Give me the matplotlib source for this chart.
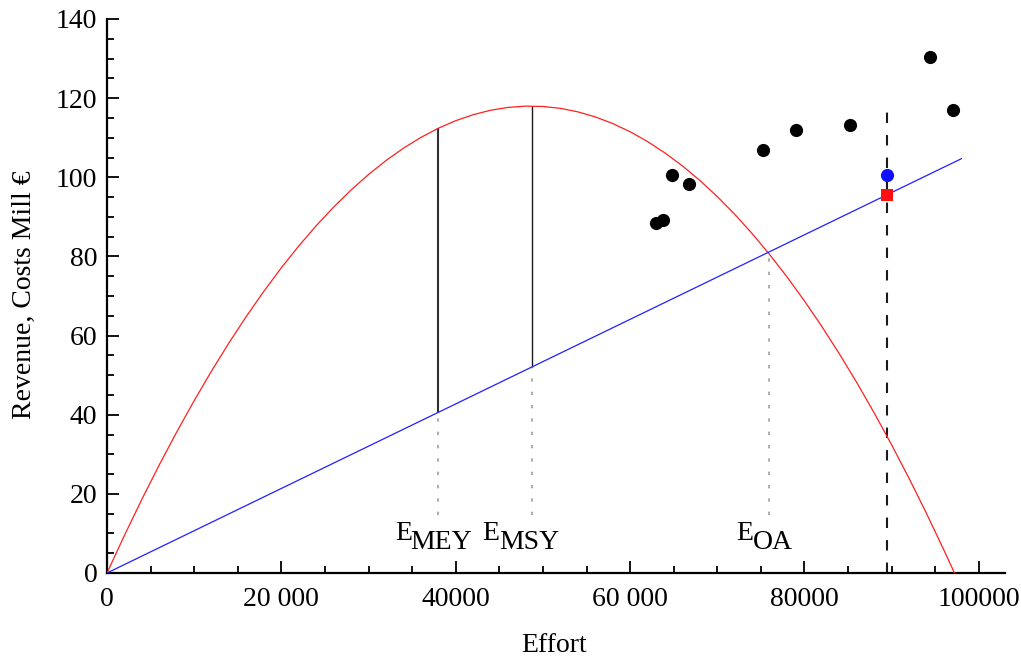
import numpy as np
import matplotlib
matplotlib.use("Agg")
import matplotlib.pyplot as plt
from matplotlib.ticker import MultipleLocator
from matplotlib.transforms import offset_copy

plt.rcParams['font.family'] = ['Liberation Serif', 'DejaVu Serif']

# revenue curve (Mill EUR) against effort
effort_curve = [0, 2000, 4000, 6000, 8000, 10000, 12000, 14000, 16000, 18000,
                20000, 22000, 24000, 26000, 28000, 30000, 32000, 34000, 36000, 38000,
                40000, 42000, 44000, 46000, 48000, 50000, 52000, 54000, 56000, 58000,
                60000, 62000, 64000, 66000, 68000, 70000, 72000, 74000, 76000, 78000,
                80000, 82000, 84000, 86000, 88000, 90000, 92000, 94000, 96000, 97200]
revenue_curve = [0, 9.51, 18.62, 27.34, 35.65, 43.56, 51.08, 58.19, 64.91, 71.22,
                 77.14, 82.65, 87.77, 92.48, 96.80, 100.72, 104.23, 107.35, 110.07, 112.39,
                 114.31, 115.82, 116.94, 117.66, 117.98, 117.90, 117.42, 116.54, 115.26, 113.59,
                 111.51, 109.03, 106.15, 102.87, 99.20, 95.12, 90.65, 85.77, 80.49, 74.82,
                 68.74, 62.27, 55.39, 48.12, 40.45, 32.37, 23.90, 15.03, 5.75, 0]

# cost line
effort_cost = [0, 98000]
cost_line = [0, 104.7]

# reference efforts with cost and revenue at that effort
ref_names = ["MEY", "MSY", "OA"]
ref_effort = [38000, 48700, 75900]
ref_cost = [40.6, 52.0, 81.0]
ref_revenue = [112.4, 118.0, 81.0]
ref_dotted_bottom = 14.7

# observed points
obs_effort = [63000, 63800, 64800, 66700, 75200, 79000, 85200, 94400, 97000]
obs_value = [88.4, 89.1, 100.5, 98.4, 107.0, 112.0, 113.3, 130.5, 117.0]

# current effort
cur_effort = 89500
cur_revenue = 100.5
cur_cost = 95.6
cur_top = 117.3

xticks = [0, 20000, 40000, 60000, 80000, 100000]
xticklabels = ["0", "20 000", "40000", "60 000", "80000", "100000"]
yticks = [0, 20, 40, 60, 80, 100, 120, 140]

fig = plt.figure(figsize=(10.21, 6.63), dpi=100)
ax = fig.add_axes([107 / 1021, 1 - 573 / 663, 898 / 1021, 554 / 663])

ax.plot(effort_curve, revenue_curve, color='#ff2020', lw=0.9, zorder=3)
ax.plot(effort_cost, cost_line, color='#2020ff', lw=0.9, zorder=3)

# vertical reference lines
ax.vlines(ref_effort[0], ref_cost[0], ref_revenue[0], color='#303030', lw=1.5, zorder=2)
ax.vlines(ref_effort[1], ref_cost[1], ref_revenue[1], color='#1a1a1a', lw=1.0, zorder=2)
for e, c in zip(ref_effort, ref_cost):
    ax.vlines(e, ref_dotted_bottom, c, color='#a0a0a0', lw=1.2,
              linestyles=(0, (2.0, 6.0)), zorder=2)

# labels E_MEY etc. : E then a lowered subscript of the same size
left_px = [-43, -49, -33]
sub_px = [15, 17, 17]
for name, e, dx, sx in zip(ref_names, ref_effort, left_px, sub_px):
    t1 = offset_copy(ax.transData, fig=fig, x=dx, y=0, units='dots')
    t2 = offset_copy(ax.transData, fig=fig, x=dx + sx, y=-9, units='dots')
    ax.text(e, 8.3, "E", transform=t1, fontsize=20, ha='left', va='baseline')
    ax.text(e, 8.3, name, transform=t2, fontsize=20, ha='left', va='baseline')

# current effort dashed line and points
ax.vlines(cur_effort, 0, cur_top, color='#1a1a1a', lw=1.5,
          linestyles=(0, (5.0, 5.8)), zorder=2)
ax.scatter(obs_effort, obs_value, s=90, color='black', zorder=4, linewidths=0)
ax.scatter([cur_effort], [cur_revenue], s=90, color='#1010ff', zorder=5, linewidths=0)
ax.scatter([cur_effort], [cur_cost], s=80, color='#ff1010', marker='s', zorder=5,
           linewidths=0)

ax.set_xlim(0, 103000)
ax.set_ylim(0, 140)
for s in ['top', 'right']:
    ax.spines[s].set_visible(False)
for s in ['left', 'bottom']:
    ax.spines[s].set_linewidth(1.6)

ax.set_xticks(xticks)
ax.set_xticklabels(xticklabels)
ax.set_yticks(yticks)
ax.xaxis.set_minor_locator(MultipleLocator(5000))
ax.yaxis.set_minor_locator(MultipleLocator(5))
ax.tick_params(which='both', direction='in', width=1.3, labelsize=20)
ax.tick_params(which='major', length=8.5)
ax.tick_params(which='minor', length=5)
ax.tick_params(axis='x', pad=10)
ax.tick_params(axis='y', pad=7)

ax.set_xlabel("Effort", fontsize=20)
ax.set_ylabel("Revenue, Costs Mill \u20ac", fontsize=20)
ax.xaxis.set_label_coords(0.498, -0.108)
ax.yaxis.set_label_coords(-0.078, 0.503)

fig.savefig("out.png", dpi=100)
